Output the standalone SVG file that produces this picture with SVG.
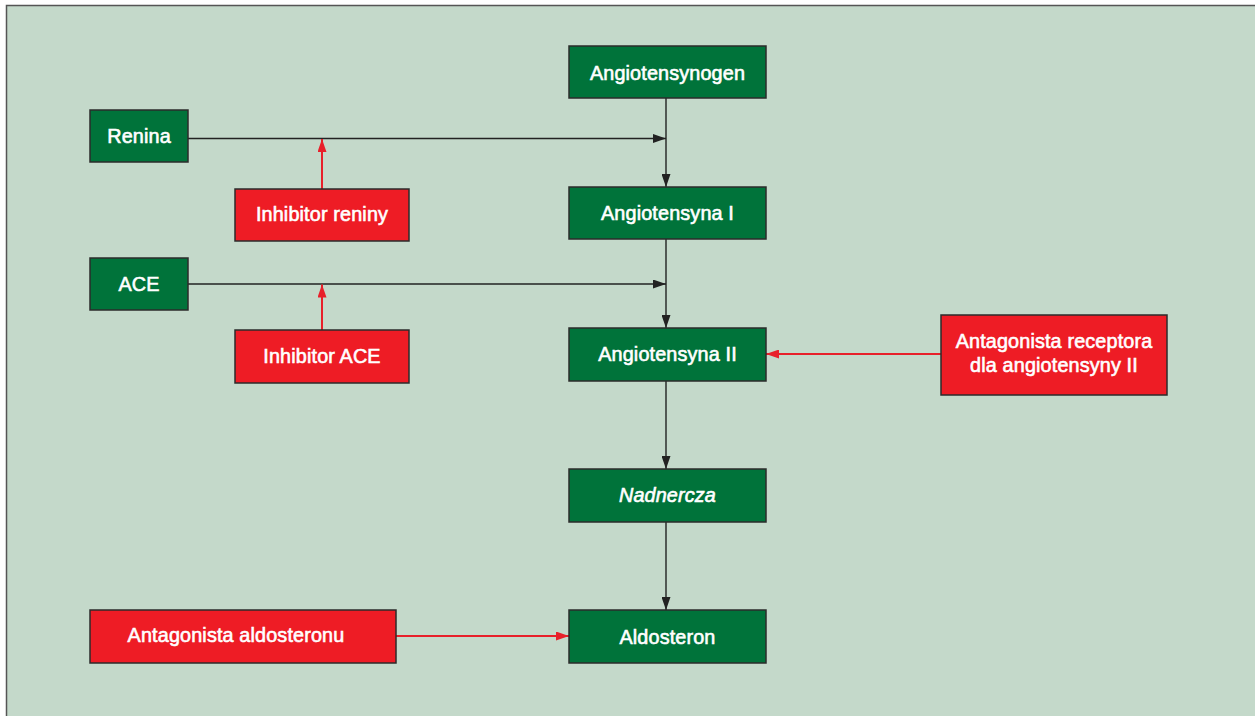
<svg xmlns="http://www.w3.org/2000/svg" width="1255" height="716" viewBox="0 0 1255 716">
<style>
.g{fill:#00733a;stroke:#2b2b2b;stroke-width:1.5}
.r{fill:#ee1c25;stroke:#2b2b2b;stroke-width:1.5}
.t{fill:#fff;stroke:#fff;stroke-width:0.6;font-family:"Liberation Sans",Arial,sans-serif;font-size:19.8px;text-anchor:middle;letter-spacing:0.15px}
.k{stroke:#222;stroke-width:1.4;fill:none}
.rl{stroke:#e8202a;stroke-width:2;fill:none}
</style>
<defs>
<marker id="ak" markerWidth="13" markerHeight="9" refX="13" refY="4.5" orient="auto" markerUnits="userSpaceOnUse"><path d="M0,0L13,4.5L0,9z" fill="#222"/></marker>
<marker id="ar" markerWidth="13" markerHeight="9" refX="13" refY="4.5" orient="auto" markerUnits="userSpaceOnUse"><path d="M0,0L13,4.5L0,9z" fill="#e8202a"/></marker>
</defs>
<rect x="6.5" y="5.5" width="1260" height="720" fill="#c4d9ca" stroke="#555" stroke-width="1.5"/>
<g id="connectors">
<line class="k" x1="666" y1="98" x2="666" y2="187" marker-end="url(#ak)"/>
<line class="k" x1="188" y1="138.5" x2="666" y2="138.5" marker-end="url(#ak)"/>
<line class="rl" x1="322" y1="189" x2="322" y2="139" marker-end="url(#ar)"/>
<line class="k" x1="666" y1="239" x2="666" y2="328" marker-end="url(#ak)"/>
<line class="k" x1="188" y1="284" x2="666" y2="284" marker-end="url(#ak)"/>
<line class="rl" x1="322" y1="330" x2="322" y2="284.5" marker-end="url(#ar)"/>
<line class="rl" x1="941" y1="354" x2="766" y2="354" marker-end="url(#ar)"/>
<line class="k" x1="666" y1="381" x2="666" y2="469" marker-end="url(#ak)"/>
<line class="k" x1="666" y1="522" x2="666" y2="610" marker-end="url(#ak)"/>
<line class="rl" x1="396" y1="636" x2="569" y2="636" marker-end="url(#ar)"/>
</g>
<g id="angiotensynogen"><rect class="g" x="569" y="46" width="197" height="52"/><text class="t" x="667.5" y="80">Angiotensynogen</text></g>
<g id="angiotensyna1"><rect class="g" x="569" y="187" width="197" height="52"/><text class="t" x="667.5" y="220">Angiotensyna I</text></g>
<g id="angiotensyna2"><rect class="g" x="569" y="328" width="197" height="53"/><text class="t" x="667.5" y="361">Angiotensyna II</text></g>
<g id="nadnercza"><rect class="g" x="569" y="469" width="197" height="53"/><text class="t" x="667.5" y="502" font-style="italic">Nadnercza</text></g>
<g id="aldosteron"><rect class="g" x="569" y="610" width="197" height="53"/><text class="t" x="667.5" y="644">Aldosteron</text></g>
<g id="renina"><rect class="g" x="90" y="110" width="98" height="52"/><text class="t" x="139" y="143">Renina</text></g>
<g id="ace"><rect class="g" x="90" y="258" width="98" height="52"/><text class="t" x="139" y="291">ACE</text></g>
<g id="inhibitor-reniny"><rect class="r" x="235" y="189" width="174" height="52"/><text class="t" x="322" y="221">Inhibitor reniny</text></g>
<g id="inhibitor-ace"><rect class="r" x="235" y="330" width="174" height="53"/><text class="t" x="322" y="363">Inhibitor ACE</text></g>
<g id="antagonista-receptora"><rect class="r" x="941" y="315" width="226" height="80"/><text class="t" x="1054" y="348">Antagonista receptora</text><text class="t" x="1054" y="372">dla angiotensyny II</text></g>
<g id="antagonista-aldosteronu"><rect class="r" x="90" y="610" width="306" height="53"/><text class="t" x="236" y="642">Antagonista aldosteronu</text></g>
</svg>
